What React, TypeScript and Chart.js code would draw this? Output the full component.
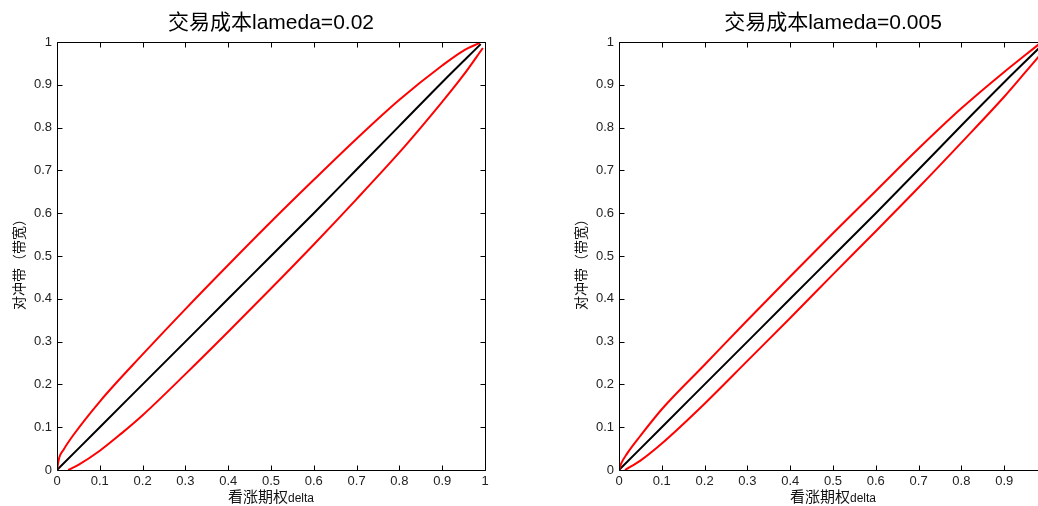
import React, { useEffect, useRef } from "react";
import { Chart, registerables } from "chart.js";

Chart.register(...registerables);

// ---------- data ----------
const TICK_VALUES = [0, 0.1, 0.2, 0.3, 0.4, 0.5, 0.6, 0.7, 0.8, 0.9, 1];

const leftTitle = "交易成本lameda=0.02";
const rightTitle = "交易成本lameda=0.005";
const xTitleCJK = "看涨期权";
const xTitleLatin = "delta";
const yTitle = "对冲带（带宽）";

const leftUpperX = [0, 0.005, 0.015, 0.037, 0.1, 0.2, 0.3, 0.4, 0.5, 0.6, 0.7, 0.8, 0.9, 0.95, 0.988];
const leftUpperY = [0, 0.028, 0.047, 0.08, 0.16, 0.27, 0.376, 0.479, 0.58, 0.678, 0.774, 0.865, 0.945, 0.98, 0.998];
const leftMidX = [0, 0.1, 0.2, 0.3, 0.4, 0.5, 0.6, 0.7, 0.8, 0.9, 0.99];
const leftMidY = [0, 0.1, 0.2, 0.3, 0.4, 0.5, 0.6, 0.702, 0.804, 0.906, 0.995];
const leftLowerX = [0.026, 0.05, 0.1, 0.15, 0.2, 0.3, 0.4, 0.5, 0.6, 0.7, 0.8, 0.85, 0.9, 0.95, 0.995];
const leftLowerY = [0, 0.012, 0.045, 0.085, 0.128, 0.224, 0.323, 0.424, 0.527, 0.633, 0.742, 0.8, 0.86, 0.923, 0.986];

const rightUpperX = [0, 0.005, 0.02, 0.05, 0.1, 0.2, 0.3, 0.4, 0.5, 0.6, 0.7, 0.8, 0.9, 0.95, 0.985];
const rightUpperY = [0, 0.015, 0.04, 0.08, 0.142, 0.246, 0.35, 0.452, 0.553, 0.652, 0.751, 0.845, 0.93, 0.97, 0.998];
const rightMidX = [0, 0.1, 0.2, 0.3, 0.4, 0.5, 0.6, 0.7, 0.8, 0.9, 0.99];
const rightMidY = [0, 0.1, 0.2, 0.3, 0.4, 0.5, 0.6, 0.702, 0.805, 0.906, 0.994];
const rightLowerX = [0.014, 0.05, 0.1, 0.2, 0.3, 0.4, 0.5, 0.6, 0.7, 0.8, 0.9, 0.95, 0.98, 1];
const rightLowerY = [0, 0.022, 0.062, 0.155, 0.255, 0.355, 0.457, 0.558, 0.66, 0.765, 0.872, 0.93, 0.965, 0.99];

// ---------- helpers ----------
const LATIN = '"Liberation Sans", "Noto Sans CJK SC", sans-serif';
const CJK = '"Noto Sans CJK SC", "Liberation Sans", sans-serif';

function pts(xs: number[], ys: number[]) {
  return xs.map((x, i) => ({ x, y: ys[i] }));
}

const framePlugin = (title: string) => ({
  id: "matlabFrame",
  afterDraw(chart: any) {
    const { ctx, chartArea } = chart;
    const { left, right, top, bottom } = chartArea;
    const xs = chart.scales.x;
    const ys = chart.scales.y;
    ctx.save();
    ctx.strokeStyle = "#000";
    ctx.lineWidth = 1;
    const L = Math.round(left) + 0.5;
    const R = Math.round(right) + 0.5;
    const T = Math.round(top) + 0.5;
    const B = Math.round(bottom) + 0.5;
    ctx.beginPath();
    ctx.rect(L, T, R - L, B - T);
    ctx.stroke();
    const tl = 5;
    ctx.beginPath();
    for (const v of TICK_VALUES) {
      const px = Math.round(xs.getPixelForValue(v)) + 0.5;
      ctx.moveTo(px, B);
      ctx.lineTo(px, B - tl);
      ctx.moveTo(px, T);
      ctx.lineTo(px, T + tl);
      const py = Math.round(ys.getPixelForValue(v)) + 0.5;
      ctx.moveTo(L, py);
      ctx.lineTo(L + tl, py);
      ctx.moveTo(R, py);
      ctx.lineTo(R - tl, py);
    }
    ctx.stroke();

    const cx = (left + right) / 2;
    // title
    ctx.fillStyle = "#000";
    ctx.font = `21px ${LATIN}`;
    ctx.textAlign = "center";
    ctx.textBaseline = "middle";
    ctx.fillText(title, cx, 23);

    // x title
    ctx.textBaseline = "alphabetic";
    ctx.textAlign = "left";
    ctx.font = `15px ${CJK}`;
    const w1 = ctx.measureText(xTitleCJK).width;
    ctx.font = `12px ${LATIN}`;
    const w2 = ctx.measureText(xTitleLatin).width;
    const sx = cx - (w1 + w2) / 2;
    ctx.fillStyle = "#111";
    ctx.font = `15px ${CJK}`;
    ctx.fillText(xTitleCJK, sx, 502);
    ctx.font = `12px ${LATIN}`;
    ctx.fillText(xTitleLatin, sx + w1, 502);

    // y title
    ctx.save();
    ctx.translate(19, (top + bottom) / 2 + 5);
    ctx.rotate(-Math.PI / 2);
    ctx.font = `14px ${CJK}`;
    ctx.textAlign = "center";
    ctx.textBaseline = "middle";
    ctx.fillText(yTitle, 0, 0);
    ctx.restore();

    ctx.restore();
  },
});

function makeConfig(title: string, ux: number[], uy: number[], mx: number[], my: number[], lx: number[], ly: number[]): any {
  const tickFmt = (v: any) => {
    const n = Number(Number(v).toFixed(1));
    return String(n);
  };
  const lineBase = { showLine: true, borderWidth: 2, pointRadius: 0, cubicInterpolationMode: "monotone" };
  return {
    type: "scatter",
    data: {
      datasets: [
        { ...lineBase, data: pts(ux, uy), borderColor: "#ff0000" },
        { ...lineBase, data: pts(mx, my), borderColor: "#000000" },
        { ...lineBase, data: pts(lx, ly), borderColor: "#ff0000" },
      ],
    },
    options: {
      responsive: false,
      animation: false,
      devicePixelRatio: 1,
      layout: { padding: { left: 0, right: 34, top: 42, bottom: 0 } },
      plugins: { legend: { display: false }, tooltip: { enabled: false }, title: { display: false } },
      scales: {
        x: {
          type: "linear",
          min: 0,
          max: 1,
          grid: { display: false, drawTicks: false },
          border: { display: false },
          ticks: {
            stepSize: 0.1,
            padding: 4,
            color: "#222",
            font: { family: LATIN, size: 13 },
            maxRotation: 0,
            autoSkip: false,
            callback: tickFmt,
          },
          afterFit: (s: any) => {
            s.height = 36;
          },
        },
        y: {
          type: "linear",
          min: 0,
          max: 1,
          grid: { display: false, drawTicks: false },
          border: { display: false },
          ticks: {
            stepSize: 0.1,
            padding: 5,
            color: "#222",
            font: { family: LATIN, size: 13 },
            autoSkip: false,
            callback: tickFmt,
          },
          afterFit: (s: any) => {
            s.width = 57;
          },
        },
      },
    },
    plugins: [framePlugin(title)],
  };
}

function Panel(props: { left: number; config: any }) {
  const ref = useRef<HTMLCanvasElement | null>(null);
  useEffect(() => {
    if (!ref.current) return;
    const c = new Chart(ref.current, props.config);
    return () => c.destroy();
  }, []);
  return (
    <canvas
      ref={ref}
      width={519}
      height={506}
      style={{ position: "absolute", left: props.left, top: 0, width: 519, height: 506 }}
    />
  );
}

export default function App() {
  const leftCfg = makeConfig(leftTitle, leftUpperX, leftUpperY, leftMidX, leftMidY, leftLowerX, leftLowerY);
  const rightCfg = makeConfig(rightTitle, rightUpperX, rightUpperY, rightMidX, rightMidY, rightLowerX, rightLowerY);
  return (
    <div
      style={{
        position: "fixed",
        left: 0,
        top: 0,
        width: 1038,
        height: 506,
        overflow: "hidden",
        background: "#fff",
      }}
    >
      <Panel left={0} config={leftCfg} />
      <Panel left={562} config={rightCfg} />
    </div>
  );
}
